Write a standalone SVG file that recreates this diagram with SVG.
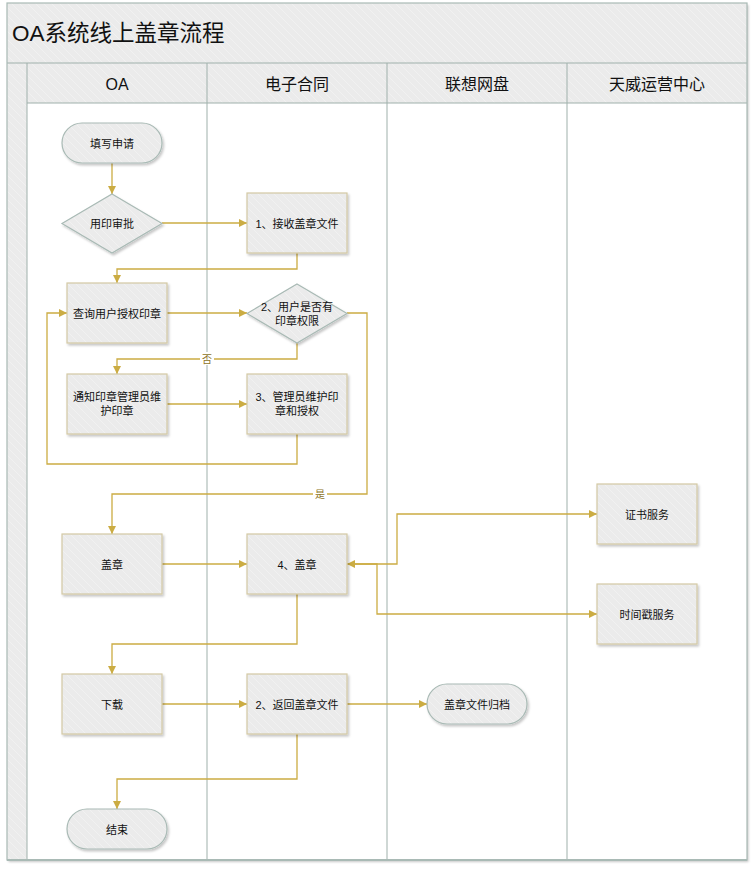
<svg xmlns="http://www.w3.org/2000/svg" width="756" height="870" viewBox="0 0 756 870">
  <style>
    .bg { fill: url(#hatch); }
    .frame { fill: none; stroke: #a9bab5; stroke-width: 1.2; }
    .lane { stroke: #9fb0ab; stroke-width: 1; }
    .box { fill: url(#hatch); stroke: #d3c9a4; stroke-width: 1.2; filter: url(#shadow); }
    .term { fill: url(#hatch); stroke: #a9bab5; stroke-width: 1.2; filter: url(#shadow); }
    .title { font-family: "Liberation Sans", "Noto Sans CJK SC", sans-serif; font-size: 22.5px; fill: #111; }
    .head { font-family: "Liberation Sans", "Noto Sans CJK SC", sans-serif; font-size: 16px; fill: #111; text-anchor: middle; }
    .t { font-family: "Liberation Sans", "Noto Sans CJK SC", sans-serif; font-size: 11px; fill: #111; text-anchor: middle; }
    .lbl { font-family: "Liberation Sans", "Noto Sans CJK SC", sans-serif; font-size: 10px; fill: #8c7326; text-anchor: middle; }
    .conn path { fill: none; stroke: #cbac43; stroke-width: 1.3; marker-end: url(#arrow); }
  </style>
  <defs>
    <pattern id="hatch" patternUnits="userSpaceOnUse" width="8" height="8">
      <rect width="8" height="8" fill="#ebebeb"/>
      <path d="M0,0 L8,8 M-2,6 L2,10 M6,-2 L10,2" stroke="#f1f1f1" stroke-width="1"/>
    </pattern>
    <filter id="shadow" x="-10%" y="-10%" width="130%" height="140%">
      <feDropShadow dx="1.5" dy="2" stdDeviation="1.3" flood-color="#000" flood-opacity="0.22"/>
    </filter>
    <marker id="arrow" viewBox="0 0 10 10" refX="10" refY="5" markerWidth="9" markerHeight="8" markerUnits="userSpaceOnUse" orient="auto">
      <path d="M0,0 L10,5 L0,10 z" fill="#cbac43"/>
    </marker>
    <marker id="arrowStart" viewBox="0 0 10 10" refX="0" refY="5" markerWidth="9" markerHeight="8" markerUnits="userSpaceOnUse" orient="auto">
      <path d="M10,0 L0,5 L10,10 z" fill="#cbac43"/>
    </marker>
  </defs>

  <!-- pool frame, title bar, lane headers -->
  <g id="pool">
    <rect x="7" y="3" width="740" height="857" fill="#fff" filter="url(#shadow)"/>
    <rect class="bg" x="7" y="3" width="740" height="60"/>
    <rect class="bg" x="7" y="63" width="20" height="797"/>
    <rect class="bg" x="27" y="63" width="720" height="40"/>
    <line class="lane" x1="7" y1="63" x2="747" y2="63"/>
    <line class="lane" x1="27" y1="103" x2="747" y2="103"/>
    <line class="lane" x1="27" y1="63" x2="27" y2="860"/>
    <line class="lane" x1="207" y1="63" x2="207" y2="860"/>
    <line class="lane" x1="387" y1="63" x2="387" y2="860"/>
    <line class="lane" x1="567" y1="63" x2="567" y2="860"/>
    <rect class="frame" x="7" y="3" width="740" height="857"/>
    <line x1="7" y1="860" x2="747" y2="860" stroke="#a9bab5" stroke-width="2"/>
    <text class="title" x="12" y="41">OA系统线上盖章流程</text>
    <text class="head" x="117" y="90">OA</text>
    <text class="head" x="297" y="90">电子合同</text>
    <text class="head" x="477" y="90">联想网盘</text>
    <text class="head" x="657" y="90">天威运营中心</text>
  </g>

  <!-- connectors -->
  <g id="connectors" class="conn">
    <path d="M112,163 V194"/>
    <path d="M162,223 H247"/>
    <path d="M297,253 V269 H117 V283"/>
    <path d="M167,313 H247"/>
    <path d="M297,343 V359 H117 V374"/>
    <path d="M167,404 H247"/>
    <path d="M297,434 V464 H47 V313 H67"/>
    <path d="M347,313 H367 V494 H112 V534"/>
    <path d="M162,564 H247"/>
    <path d="M347,564 H397 V514 H597" marker-start="url(#arrowStart)"/>
    <path d="M350,564 H377 V614 H597"/>
    <path d="M297,594 V644 H112 V674"/>
    <path d="M162,704 H247"/>
    <path d="M347,704 H427"/>
    <path d="M297,734 V779 H117 V809"/>
    <rect x="200" y="352" width="14" height="13" fill="#fff"/>
    <text class="lbl" x="207" y="362.5">否</text>
    <rect x="313" y="487" width="14" height="13" fill="#fff"/>
    <text class="lbl" x="320" y="497.5">是</text>
  </g>

  <!-- nodes -->
  <g id="n-fill">
    <rect class="term" x="62" y="123" width="100" height="40" rx="20"/>
    <text class="t" x="112" y="147.5">填写申请</text>
  </g>
  <g id="n-approve">
    <polygon class="term" points="112,194 162,223.5 112,253 62,223.5"/>
    <text class="t" x="112" y="227.5">用印审批</text>
  </g>
  <g id="n-receive">
    <rect class="box" x="247" y="193" width="100" height="60"/>
    <text class="t" x="297" y="227.5">1、接收盖章文件</text>
  </g>
  <g id="n-query">
    <rect class="box" x="67" y="283" width="100" height="60"/>
    <text class="t" x="117" y="317.5">查询用户授权印章</text>
  </g>
  <g id="n-check">
    <polygon class="term" points="297,284 347,313.5 297,343 247,313.5"/>
    <text class="t" x="297" y="311">2、用户是否有</text>
    <text class="t" x="297" y="325">印章权限</text>
  </g>
  <g id="n-notify">
    <rect class="box" x="67" y="374" width="100" height="60"/>
    <text class="t" x="117" y="401">通知印章管理员维</text>
    <text class="t" x="117" y="415">护印章</text>
  </g>
  <g id="n-maintain">
    <rect class="box" x="247" y="374" width="100" height="60"/>
    <text class="t" x="297" y="401">3、管理员维护印</text>
    <text class="t" x="297" y="415">章和授权</text>
  </g>
  <g id="n-seal">
    <rect class="box" x="62" y="534" width="100" height="60"/>
    <text class="t" x="112" y="568.5">盖章</text>
  </g>
  <g id="n-seal4">
    <rect class="box" x="247" y="534" width="100" height="60"/>
    <text class="t" x="297" y="568.5">4、盖章</text>
  </g>
  <g id="n-cert">
    <rect class="box" x="597" y="484" width="100" height="60"/>
    <text class="t" x="647" y="518.5">证书服务</text>
  </g>
  <g id="n-timestamp">
    <rect class="box" x="597" y="584" width="100" height="60"/>
    <text class="t" x="647" y="618.5">时间戳服务</text>
  </g>
  <g id="n-download">
    <rect class="box" x="62" y="674" width="100" height="60"/>
    <text class="t" x="112" y="708.5">下载</text>
  </g>
  <g id="n-return">
    <rect class="box" x="247" y="674" width="100" height="60"/>
    <text class="t" x="297" y="708.5">2、返回盖章文件</text>
  </g>
  <g id="n-archive">
    <rect class="term" x="427" y="684" width="100" height="40" rx="20"/>
    <text class="t" x="477" y="708.5">盖章文件归档</text>
  </g>
  <g id="n-end">
    <rect class="term" x="67" y="809" width="100" height="40" rx="20"/>
    <text class="t" x="117" y="833.5">结束</text>
  </g>
</svg>
